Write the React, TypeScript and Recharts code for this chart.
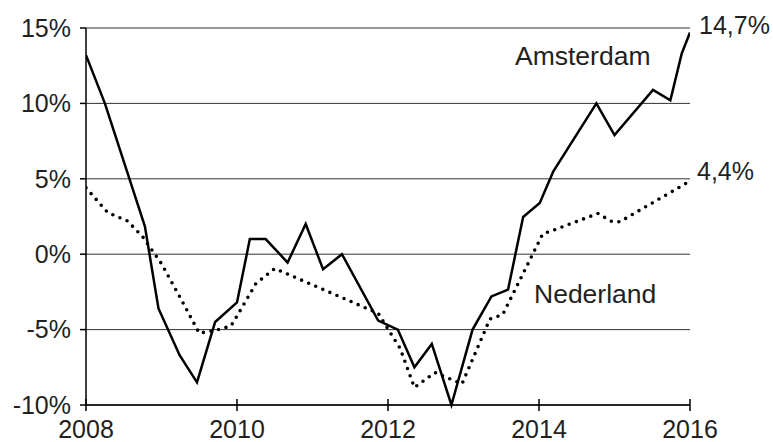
import React from "react";
import { LineChart, Line, XAxis, YAxis, CartesianGrid } from "recharts";

const amsterdamYears = [2008.0, 2008.25, 2008.78, 2008.96, 2009.24, 2009.47, 2009.71, 2010.0, 2010.17, 2010.38, 2010.67, 2010.91, 2011.14, 2011.39, 2011.87, 2012.13, 2012.35, 2012.58, 2012.84, 2013.12, 2013.37, 2013.59, 2013.79, 2014.01, 2014.19, 2014.76, 2015.0, 2015.51, 2015.74, 2015.89, 2016.0];
const amsterdamValues = [13.2, 10.0, 1.85, -3.6, -6.7, -8.5, -4.5, -3.2, 1.0, 1.0, -0.55, 2.0, -1.0, 0.0, -4.4, -5.0, -7.5, -5.95, -10.0, -5.0, -2.8, -2.35, 2.47, 3.4, 5.5, 10.0, 7.9, 10.9, 10.2, 13.3, 14.7];

const nederlandYears = [2008.0, 2008.29, 2008.55, 2008.75, 2009.0, 2009.25, 2009.5, 2009.75, 2009.92, 2010.0, 2010.25, 2010.5, 2011.87, 2012.16, 2012.35, 2012.62, 2012.98, 2013.35, 2013.52, 2014.05, 2014.17, 2014.78, 2014.97, 2015.07, 2016.0];
const nederlandValues = [4.4, 2.75, 2.2, 1.16, -0.63, -2.9, -5.24, -5.0, -4.76, -4.1, -1.95, -0.95, -3.92, -6.24, -8.84, -7.85, -8.6, -4.3, -4.0, 1.35, 1.55, 2.7, 2.15, 2.15, 4.85];

const seriesNames = ["Amsterdam", "Nederland"];
const endLabels = ["14,7%", "4,4%"];
const xTicks = [2008, 2010, 2012, 2014, 2016];
const yTicks = [-10, -5, 0, 5, 10, 15];

const amsterdamData = amsterdamYears.map((x, i) => ({ x, v: amsterdamValues[i] }));
const nederlandData = nederlandYears.map((x, i) => ({ x, v: nederlandValues[i] }));

const FONT = "'Liberation Sans', Arial, sans-serif";
const TEXT = "#231f20";

const XTick = (props: any) => {
  const { x, y, payload } = props;
  return (
    <g>
      <line x1={x} x2={x} y1={y - 6} y2={y + 6} stroke="#000" strokeWidth={1.5} />
      <text x={x} y={y + 33} textAnchor="middle" fontSize={25} fontFamily={FONT} fill={TEXT}>
        {payload.value}
      </text>
    </g>
  );
};

const makeEndLabel = (text: string, n: number, dx: number, dy: number) => (props: any) => {
  const { x, y, index } = props;
  if (index !== n - 1) return null;
  return (
    <text x={x + dx} y={y + dy} fontSize={25} fontFamily={FONT} fill={TEXT}>
      {text}
    </text>
  );
};

export default function App() {
  return (
    <div style={{ position: "absolute", left: 0, top: 0, width: 773, height: 442, background: "#fff" }}>
      <LineChart width={773} height={442} margin={{ top: 28, right: 83, bottom: 7, left: 6 }}>
        <CartesianGrid vertical={false} stroke="#333" strokeWidth={1} />
        <XAxis
          dataKey="x"
          type="number"
          domain={[2008, 2016]}
          ticks={xTicks}
          allowDataOverflow
          height={30}
          tickLine={false}
          tickSize={0}
          tickMargin={0}
          tick={<XTick />}
          axisLine={{ stroke: "#000", strokeWidth: 1.5 }}
          interval={0}
        />
        <YAxis
          type="number"
          domain={[-10, 15]}
          ticks={yTicks}
          width={80}
          tickSize={6}
          tickMargin={9}
          tickFormatter={(v: number) => `${v}%`}
          tick={{ fontSize: 25, fontFamily: FONT, fill: TEXT }}
          tickLine={{ stroke: "#000", strokeWidth: 1.5 }}
          axisLine={{ stroke: "#000", strokeWidth: 1.5 }}
          interval={0}
        />
        <Line
          data={nederlandData}
          dataKey="v"
          type="linear"
          stroke="#000"
          strokeWidth={3.6}
          strokeDasharray="0 7.7"
          strokeLinecap="round"
          dot={false}
          activeDot={false}
          isAnimationActive={false}
          label={makeEndLabel(endLabels[1], nederlandData.length, 7, -1)}
        />
        <Line
          data={amsterdamData}
          dataKey="v"
          type="linear"
          stroke="#000"
          strokeWidth={2.5}
          strokeLinejoin="miter"
          dot={false}
          activeDot={false}
          isAnimationActive={false}
          label={makeEndLabel(endLabels[0], amsterdamData.length, 9, 1)}
        />
      </LineChart>
      <svg width={773} height={442} style={{ position: "absolute", left: 0, top: 0, pointerEvents: "none" }}>
        <text x={515} y={65} fontSize={26.5} fontFamily={FONT} fill={TEXT}>{seriesNames[0]}</text>
        <text x={534} y={303} fontSize={26.5} fontFamily={FONT} fill={TEXT}>{seriesNames[1]}</text>
      </svg>
    </div>
  );
}
